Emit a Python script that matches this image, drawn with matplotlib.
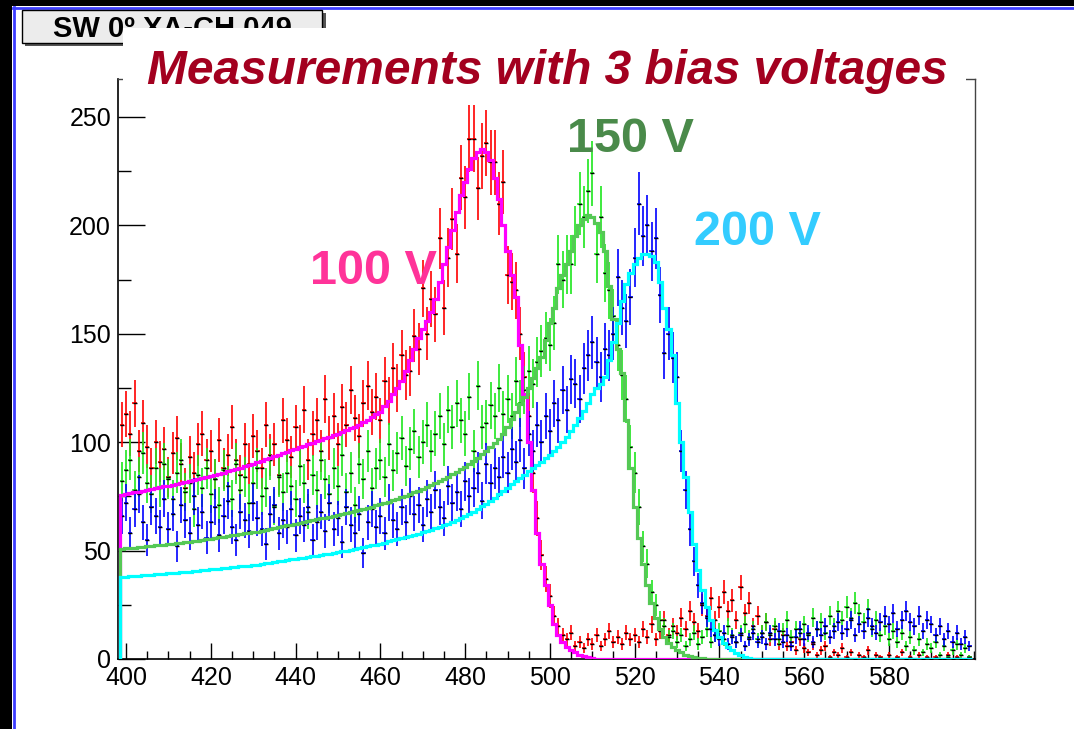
import numpy as np
import matplotlib
matplotlib.use("Agg")
import matplotlib.pyplot as plt
from matplotlib.patches import Rectangle
from matplotlib.ticker import MultipleLocator

plt.rcParams["font.family"] = ["Liberation Sans", "DejaVu Sans"]

# bins of width 1, first bin centre at 399
x_first = 399

# measured counts, 100 V (red)
counts_100 = [
    108,
    113, 104, 118, 96, 109, 98, 88, 100, 91, 97,
    84, 95, 102, 90, 79, 93, 86, 99, 104, 92,
    96, 83, 101, 88, 94, 107, 92, 85, 99, 90,
    103, 96, 88, 108, 94, 99, 85, 110, 101, 93,
    107, 98, 115, 92, 104, 110, 96, 120, 102, 112,
    99, 116, 108, 124, 111, 103, 118, 126, 114, 121,
    110, 128, 119, 134, 125, 140, 131, 133, 149, 143,
    171, 150, 166, 159, 194, 162, 185, 203, 187, 222,
    213, 240, 240, 217, 232, 238, 229, 229, 210, 220,
    177, 174, 170, 150, 130, 112, 86, 65, 48, 37,
    29, 20, 15, 11, 9, 12, 6, 8, 5, 9,
    7, 11, 6, 9, 13, 8, 10, 7, 12, 9,
    11, 8, 14, 10, 16, 9, 13, 18, 11, 15,
    12, 19, 14, 22, 17, 13, 25, 20, 28, 18,
    24, 31, 22, 27, 18, 33, 21, 26, 15, 20,
    12, 17, 9, 14, 7, 11, 6, 8, 4, 9,
    5, 3, 7, 2, 4, 6, 1, 3, 2, 5,
    1, 3, 0, 2, 1, 4, 0, 2, 1, 0,
    2, 0, 1, 3, 0, 1, 0, 2, 0, 1,
    0, 1, 0, 0, 2, 0, 1, 0, 0, 1,
]

# measured counts, 150 V (green)
counts_150 = [
    82,
    87, 92, 78, 84, 95, 81, 76, 88, 79, 90,
    83, 74, 86, 92, 77, 81, 69, 85, 79, 88,
    76, 83, 71, 87, 80, 74, 90, 78, 84, 72,
    81, 88, 75, 79, 92, 70, 84, 77, 86, 80,
    74, 89, 81, 68, 85, 78, 92, 83, 76, 88,
    80, 94, 77, 86, 71, 90, 83, 96, 79, 88,
    92, 84, 99, 87, 95, 102, 89, 97, 105, 93,
    100, 108, 96, 104, 112, 99, 115, 107, 118, 110,
    104, 121, 96, 126, 107, 109, 117, 112, 125, 113,
    120, 112, 128, 118, 124, 133, 127, 137, 142, 148,
    145, 155, 182, 175, 182, 182, 195, 210, 204, 216,
    224, 187, 204, 178, 170, 158, 145, 131, 120, 98,
    86, 70, 52, 44, 31, 25, 18, 15, 10, 13,
    8, 11, 6, 9, 12, 7, 10, 14, 8, 11,
    13, 9, 15, 11, 8, 12, 16, 10, 14, 9,
    12, 17, 11, 15, 9, 13, 18, 10, 14, 12,
    16, 11, 19, 14, 17, 12, 20, 15, 22, 18,
    24, 19, 26, 21, 17, 23, 14, 18, 11, 15,
    9, 13, 8, 12, 6, 10, 4, 9, 3, 7,
    5, 8, 2, 6, 1, 4, 7, 2, 5, 1,
]

# measured counts, 200 V (blue)
counts_200 = [
    66,
    72, 58, 69, 76, 63, 55, 70, 66, 61, 74,
    60, 67, 52, 71, 64, 58, 75, 62, 68, 56,
    63, 70, 57, 66, 73, 61, 55, 68, 64, 59,
    72, 65, 60, 53, 67, 71, 58, 64, 61, 69,
    57, 66, 62, 70, 55, 63, 68, 59, 72, 60,
    65, 54, 70, 62, 58, 67, 49, 63, 69, 61,
    66, 58, 72, 64, 60, 70, 63, 75, 67, 71,
    62, 74, 68, 78, 70, 65, 80, 72, 77, 69,
    82, 75, 79, 86, 73, 90, 81, 88, 84, 93,
    86, 97, 91, 101, 88, 104, 96, 108, 100, 112,
    105, 118, 110, 124, 115, 129, 127, 120, 134, 140,
    146, 137, 130, 143, 140, 150, 176, 162, 156, 167,
    185, 210, 195, 200, 188, 194, 168, 141, 150, 139,
    130, 96, 78, 60, 45, 34, 26, 19, 14, 11,
    9, 12, 7, 10, 8, 11, 6, 9, 12, 8,
    10, 7, 12, 9, 13, 8, 11, 6, 10, 14,
    9, 12, 8, 14, 11, 15, 10, 13, 17, 12,
    14, 18, 11, 16, 13, 19, 15, 12, 17, 20,
    16, 21, 14, 18, 22, 17, 15, 20, 13, 18,
    16, 11, 15, 9, 13, 8, 12, 7, 10, 6,
]

# fitted curves, same bins
fit_100 = [
    75.6,
    76, 76.4, 76.8, 77.2, 77.6, 78, 78.4, 78.8, 79.2, 79.6,
    80, 80.4, 80.9, 81.3, 81.8, 82.2, 82.7, 83.1, 83.6, 84,
    84.5, 85, 85.5, 86, 86.5, 87, 87.6, 88.2, 88.8, 89.4,
    90, 90.7, 91.4, 92.1, 92.8, 93.5, 94.2, 94.9, 95.6, 96.3,
    97, 97.7, 98.4, 99.1, 99.8, 100.5, 101.2, 101.9, 102.6, 103.3,
    104, 104.8, 105.6, 106.4, 107.2, 108, 109.2, 110.4, 111.6, 112.8,
    114, 116.5, 119, 122, 125, 128, 133, 138, 143, 148,
    152, 156, 160, 166, 174, 182, 190, 198, 206, 214,
    220, 226, 231, 234, 235, 234, 230, 222, 212, 200,
    188, 177, 167, 145, 122, 100, 78, 58, 44, 34,
    25, 16, 11, 8, 5.5, 4, 3, 2, 1.3, 0.8,
    0.4, 0.2, 0, 0, 0, 0, 0, 0, 0, 0,
    0, 0, 0, 0, 0, 0, 0, 0, 0, 0,
    0, 0, 0, 0, 0, 0, 0, 0, 0, 0,
    0, 0, 0, 0, 0, 0, 0, 0, 0, 0,
    0, 0, 0, 0, 0, 0, 0, 0, 0, 0,
    0, 0, 0, 0, 0, 0, 0, 0, 0, 0,
    0, 0, 0, 0, 0, 0, 0, 0, 0, 0,
    0, 0, 0, 0, 0, 0, 0, 0, 0, 0,
    0, 0, 0, 0, 0, 0, 0, 0, 0, 0,
]

fit_150 = [
    50.8,
    51, 51.2, 51.4, 51.6, 51.8, 52, 52.2, 52.4, 52.6, 52.8,
    53, 53.2, 53.4, 53.6, 53.8, 54, 54.3, 54.6, 54.9, 55.2,
    55.5, 55.8, 56.1, 56.4, 56.7, 57, 57.3, 57.6, 57.9, 58.2,
    58.5, 58.8, 59.2, 59.6, 60, 60.4, 60.8, 61.2, 61.6, 62,
    62.4, 62.8, 63.2, 63.6, 64, 64.4, 64.8, 65.2, 65.6, 66,
    66.4, 66.8, 67.2, 67.7, 68.2, 68.7, 69.2, 69.7, 70.2, 70.8,
    71.4, 72, 72.6, 73.2, 73.9, 74.6, 75.3, 76, 76.8, 77.6,
    78.4, 79.2, 80.1, 81, 82, 83, 84, 85.1, 86.2, 87.4,
    88.6, 90, 91.4, 92.9, 94.5, 96.1, 97.8, 99.6, 101.5, 104,
    107, 110.5, 114, 117.5, 121, 125, 129.5, 134, 139.5, 147,
    155, 162, 171, 177, 182, 188, 195, 200, 203, 205,
    204, 201, 197, 188, 172, 157, 143, 132, 110, 88,
    70, 56, 44, 34, 26, 19, 14, 10, 7.5, 5.5,
    4, 3, 2, 1.4, 1, 0.6, 0.3, 0.1, 0, 0,
    0, 0, 0, 0, 0, 0, 0, 0, 0, 0,
    0, 0, 0, 0, 0, 0, 0, 0, 0, 0,
    0, 0, 0, 0, 0, 0, 0, 0, 0, 0,
    0, 0, 0, 0, 0, 0, 0, 0, 0, 0,
    0, 0, 0, 0, 0, 0, 0, 0, 0, 0,
    0, 0, 0, 0, 0, 0, 0, 0, 0, 0,
]

fit_200 = [
    37.8,
    38, 38.15, 38.3, 38.45, 38.6, 38.75, 38.9, 39.05, 39.2, 39.35,
    39.5, 39.65, 39.8, 39.95, 40.1, 40.3, 40.5, 40.7, 40.9, 41.1,
    41.3, 41.5, 41.7, 41.9, 42.1, 42.3, 42.5, 42.7, 42.9, 43.1,
    43.3, 43.5, 43.8, 44.1, 44.4, 44.7, 45, 45.3, 45.6, 45.9,
    46.2, 46.5, 46.8, 47.1, 47.4, 47.7, 48, 48.3, 48.6, 48.9,
    49.2, 49.6, 50, 50.4, 50.8, 51.2, 51.6, 52, 52.4, 52.8,
    53.2, 53.7, 54.2, 54.7, 55.2, 55.7, 56.2, 56.7, 57.2, 57.8,
    58.4, 59, 59.6, 60.3, 61, 61.7, 62.4, 63.2, 64, 64.8,
    66, 67, 68, 69.2, 70.4, 71.6, 73, 74.4, 76, 77.5,
    79, 80.5, 82, 83.5, 85, 86.5, 88, 89.5, 91, 92.5,
    94, 96, 98, 100, 102.5, 105, 108, 111, 114.5, 118,
    122, 125, 127, 130, 138, 146, 155, 165, 173, 178,
    182, 185, 187, 187, 186, 183, 174, 162, 152, 140,
    118, 100, 84, 68, 53, 41, 32, 24, 18, 13.5,
    10, 7.5, 5.5, 4, 2.8, 1.8, 1, 0.5, 0.2, 0,
    0, 0, 0, 0, 0, 0, 0, 0, 0, 0,
    0, 0, 0, 0, 0, 0, 0, 0, 0, 0,
    0, 0, 0, 0, 0, 0, 0, 0, 0, 0,
    0, 0, 0, 0, 0, 0, 0, 0, 0, 0,
    0, 0, 0, 0, 0, 0, 0, 0, 0, 0,
]

series = [
    (counts_100, fit_100, "#ff0000", "#ff00ff"),
    (counts_150, fit_150, "#1ee61e", "#55c855"),
    (counts_200, fit_200, "#0000ff", "#00ffff"),
]

W, H = 1074, 729
fig = plt.figure(figsize=(W / 100, H / 100), dpi=100)
fig.patch.set_facecolor("white")

# main plot area (pixel box 118..975 x 79..659)
ax = fig.add_axes([118 / W, (H - 659) / H, 857 / W, 580 / H])
ax.set_zorder(1)

for counts, fit, c_data, c_fit in series:
    y = np.array(counts, dtype=float)
    xc = x_first + np.arange(len(y))
    ax.errorbar(xc, y, yerr=np.sqrt(y), xerr=0.5, fmt="_", color="black",
                ms=3, mew=1, ecolor=c_data, elinewidth=1.2, capsize=0,
                zorder=2)
    edges = x_first - 0.5 + np.arange(len(fit) + 1)
    ax.stairs(fit, edges, baseline=0, color=c_fit, lw=2.3, zorder=3)

ax.set_xlim(398.1, 600.3)
ax.set_ylim(0, 267.5)
ax.xaxis.set_major_locator(MultipleLocator(20))
ax.xaxis.set_minor_locator(MultipleLocator(5))
ax.yaxis.set_major_locator(MultipleLocator(50))
ax.yaxis.set_minor_locator(MultipleLocator(25))
ax.set_xticks([400, 420, 440, 460, 480, 500, 520, 540, 560, 580])
ax.tick_params(axis="x", which="major", direction="in", length=11.5,
               width=1, labelsize=18, pad=5, top=False)
ax.tick_params(axis="x", which="minor", direction="in", length=5.8,
               width=1, top=False)
ax.tick_params(axis="y", which="major", direction="in", length=19.4,
               width=1, labelsize=18, pad=5, right=False)
ax.tick_params(axis="y", which="minor", direction="in", length=9.4,
               width=1, right=False)
for s in ["left", "bottom"]:
    ax.spines[s].set_color("black")
    ax.spines[s].set_linewidth(1.2)
for s in ["right", "top"]:
    ax.spines[s].set_color("#444444")
    ax.spines[s].set_linewidth(1.0)

# overlay in pixel coordinates for the slide decorations
ov = fig.add_axes([0, 0, 1, 1])
ov.set_zorder(2)
ov.set_xlim(0, W)
ov.set_ylim(H, 0)
ov.axis("off")
ov.patch.set_alpha(0)

ov.add_patch(Rectangle((0, 0), W, 6, color="black", lw=0))
ov.add_patch(Rectangle((0, 0), 12, H, color="black", lw=0))
ov.plot([13.5, 13.5], [7, H], color="#3c3cff", lw=2)
ov.plot([13, W], [7.5, 7.5], color="#3c3cff", lw=2)

# label box
ov.add_patch(Rectangle((25, 13), 301, 33, color="#555555", lw=0, zorder=1))
ov.add_patch(Rectangle((22, 10), 300, 33, facecolor="#ececec",
                       edgecolor="black", lw=1, zorder=2))
ov.text(53, 37, "SW 0º XA-CH 049", fontsize=21, fontweight="bold",
        color="black", ha="left", va="baseline", zorder=3)

# title box hides part of the label and the frame top
ov.add_patch(Rectangle((123, 28), 843, 64, color="white", lw=0, zorder=4))
ov.text(547, 84, "Measurements with 3 bias voltages", fontsize=34.5,
        fontweight="bold", fontstyle="italic", color="#a3001f",
        ha="center", va="baseline", zorder=5)

ov.text(310, 284, "100 V", fontsize=35, fontweight="bold", color="#ff3399",
        ha="left", va="baseline", zorder=5)
ov.text(567, 152, "150 V", fontsize=35, fontweight="bold", color="#4a8a4a",
        ha="left", va="baseline", zorder=5)
ov.text(694, 245, "200 V", fontsize=35, fontweight="bold", color="#33ccff",
        ha="left", va="baseline", zorder=5)

fig.savefig("out.png", dpi=100)
